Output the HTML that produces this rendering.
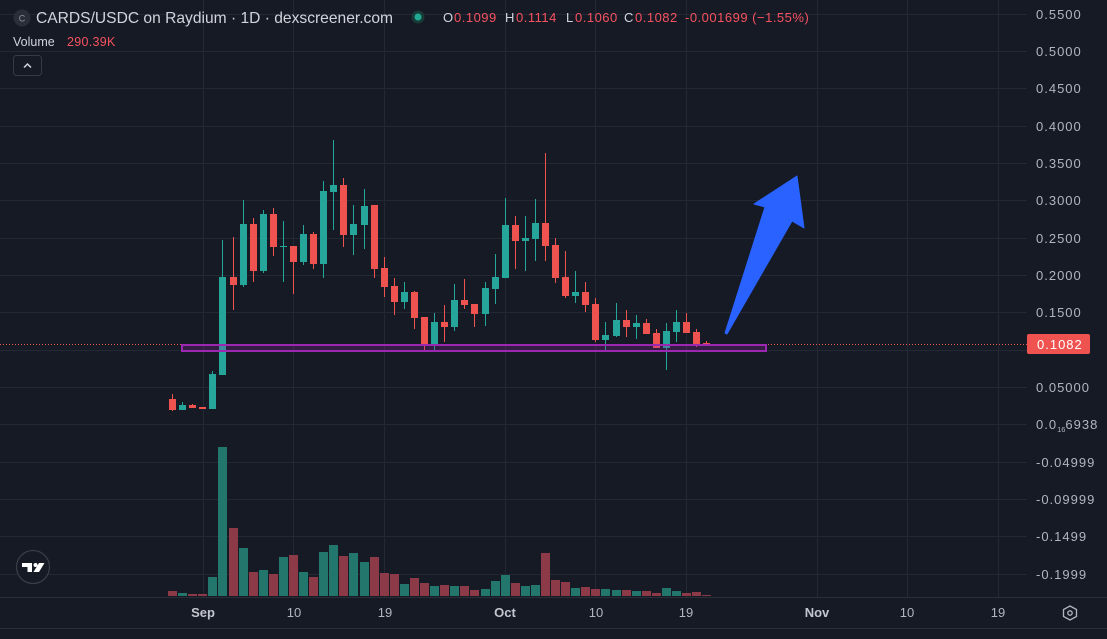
<!DOCTYPE html>
<html><head><meta charset="utf-8"><style>
html,body{margin:0;padding:0;background:#161a25;}
svg{display:block;}
text{font-family:"Liberation Sans",Arial,sans-serif;}
</style></head><body>
<svg width="1107" height="639" viewBox="0 0 1107 639" xmlns="http://www.w3.org/2000/svg">
<rect width="1107" height="639" fill="#161a25"/>
<!-- grid -->
<g stroke="#242834" stroke-width="1">
<line x1="0" y1="14.5" x2="1027" y2="14.5"/><line x1="0" y1="51.5" x2="1027" y2="51.5"/>
<line x1="0" y1="88.5" x2="1027" y2="88.5"/><line x1="0" y1="126.5" x2="1027" y2="126.5"/>
<line x1="0" y1="163.5" x2="1027" y2="163.5"/><line x1="0" y1="200.5" x2="1027" y2="200.5"/>
<line x1="0" y1="238.5" x2="1027" y2="238.5"/><line x1="0" y1="275.5" x2="1027" y2="275.5"/>
<line x1="0" y1="312.5" x2="1027" y2="312.5"/><line x1="0" y1="350.5" x2="1027" y2="350.5"/>
<line x1="0" y1="387.5" x2="1027" y2="387.5"/><line x1="0" y1="424.5" x2="1027" y2="424.5"/>
<line x1="0" y1="462.5" x2="1027" y2="462.5"/><line x1="0" y1="499.5" x2="1027" y2="499.5"/>
<line x1="0" y1="536.5" x2="1027" y2="536.5"/><line x1="0" y1="574.5" x2="1027" y2="574.5"/>
<line x1="203.5" y1="0" x2="203.5" y2="597"/><line x1="293.5" y1="0" x2="293.5" y2="597"/>
<line x1="384.5" y1="0" x2="384.5" y2="597"/><line x1="505.5" y1="0" x2="505.5" y2="597"/>
<line x1="595.5" y1="0" x2="595.5" y2="597"/><line x1="686.5" y1="0" x2="686.5" y2="597"/>
<line x1="817.5" y1="0" x2="817.5" y2="597"/><line x1="907.5" y1="0" x2="907.5" y2="597"/>
<line x1="998.5" y1="0" x2="998.5" y2="597"/>
</g>
<!-- separators -->
<line x1="0" y1="597.5" x2="1107" y2="597.5" stroke="#2a2e39"/>
<line x1="0" y1="628.5" x2="1107" y2="628.5" stroke="#2a2e39"/>

<!-- volume -->
<g fill="#22766b">
<rect x="178" y="593" width="9" height="3"/><rect x="208" y="577" width="9" height="19"/>
<rect x="218" y="447" width="9" height="149"/><rect x="239" y="548" width="9" height="48"/>
<rect x="259" y="570" width="9" height="26"/><rect x="279" y="557" width="9" height="39"/>
<rect x="299" y="572" width="9" height="24"/><rect x="319" y="552" width="9" height="44"/>
<rect x="329" y="545" width="9" height="51"/><rect x="349" y="553" width="9" height="43"/>
<rect x="360" y="562" width="9" height="34"/><rect x="400" y="584" width="9" height="12"/>
<rect x="430" y="586" width="9" height="10"/><rect x="450" y="586" width="9" height="10"/>
<rect x="481" y="589" width="9" height="7"/><rect x="491" y="581" width="9" height="15"/>
<rect x="501" y="575" width="9" height="21"/><rect x="521" y="586" width="9" height="10"/>
<rect x="531" y="585" width="9" height="11"/><rect x="571" y="588" width="9" height="8"/>
<rect x="601" y="589" width="9" height="7"/><rect x="612" y="590" width="9" height="6"/>
<rect x="632" y="591" width="9" height="5"/><rect x="662" y="588" width="9" height="8"/>
<rect x="672" y="591" width="9" height="5"/>
</g>
<g fill="#8c3a47">
<rect x="168" y="591" width="9" height="5"/><rect x="188" y="594" width="9" height="2"/>
<rect x="198" y="594" width="9" height="2"/><rect x="229" y="528" width="9" height="68"/>
<rect x="249" y="572" width="9" height="24"/><rect x="269" y="574" width="9" height="22"/>
<rect x="289" y="555" width="9" height="41"/><rect x="309" y="577" width="9" height="19"/>
<rect x="339" y="556" width="9" height="40"/><rect x="370" y="557" width="9" height="39"/>
<rect x="380" y="573" width="9" height="23"/><rect x="390" y="574" width="9" height="22"/>
<rect x="410" y="578" width="9" height="18"/><rect x="420" y="583" width="9" height="13"/>
<rect x="440" y="585" width="9" height="11"/><rect x="460" y="586" width="9" height="10"/>
<rect x="470" y="590" width="9" height="6"/><rect x="511" y="583" width="9" height="13"/>
<rect x="541" y="553" width="9" height="43"/><rect x="551" y="580" width="9" height="16"/>
<rect x="561" y="582" width="9" height="14"/><rect x="581" y="587" width="9" height="9"/>
<rect x="591" y="589" width="9" height="7"/><rect x="622" y="590" width="9" height="6"/>
<rect x="642" y="591" width="9" height="5"/><rect x="652" y="593" width="9" height="3"/>
<rect x="682" y="593" width="9" height="3"/><rect x="692" y="592" width="9" height="4"/>
<rect x="702" y="595" width="9" height="1"/>
</g>

<!-- candles green -->
<g fill="#26a69a">
<rect x="182" y="402" width="1" height="8"/><rect x="179" y="405" width="7" height="5"/>
<rect x="212" y="371" width="1" height="38"/><rect x="209" y="374" width="7" height="35"/>
<rect x="222" y="240" width="1" height="135"/><rect x="219" y="277" width="7" height="98"/>
<rect x="243" y="200" width="1" height="87"/><rect x="240" y="224" width="7" height="61"/>
<rect x="263" y="210" width="1" height="63"/><rect x="260" y="214" width="7" height="57"/>
<rect x="283" y="221" width="1" height="61"/><rect x="280" y="246" width="7" height="1"/>
<rect x="303" y="225" width="1" height="40"/><rect x="300" y="234" width="7" height="28"/>
<rect x="323" y="181" width="1" height="97"/><rect x="320" y="191" width="7" height="73"/>
<rect x="333" y="140" width="1" height="90"/><rect x="330" y="185" width="7" height="7"/>
<rect x="353" y="205" width="1" height="50"/><rect x="350" y="224" width="7" height="11"/>
<rect x="364" y="189" width="1" height="60"/><rect x="361" y="206" width="7" height="19"/>
<rect x="404" y="282" width="1" height="27"/><rect x="401" y="292" width="7" height="10"/>
<rect x="434" y="313" width="1" height="37"/><rect x="431" y="322" width="7" height="22"/>
<rect x="454" y="284" width="1" height="47"/><rect x="451" y="300" width="7" height="27"/>
<rect x="485" y="282" width="1" height="44"/><rect x="482" y="288" width="7" height="26"/>
<rect x="495" y="254" width="1" height="50"/><rect x="492" y="277" width="7" height="12"/>
<rect x="505" y="198" width="1" height="80"/><rect x="502" y="225" width="7" height="53"/>
<rect x="525" y="216" width="1" height="55"/><rect x="522" y="238" width="7" height="3"/>
<rect x="535" y="199" width="1" height="62"/><rect x="532" y="223" width="7" height="16"/>
<rect x="575" y="271" width="1" height="32"/><rect x="572" y="292" width="7" height="4"/>
<rect x="605" y="322" width="1" height="29"/><rect x="602" y="335" width="7" height="5"/>
<rect x="616" y="303" width="1" height="34"/><rect x="613" y="320" width="7" height="16"/>
<rect x="636" y="315" width="1" height="24"/><rect x="633" y="323" width="7" height="4"/>
<rect x="666" y="323" width="1" height="47"/><rect x="663" y="331" width="7" height="17"/>
<rect x="676" y="310" width="1" height="32"/><rect x="673" y="322" width="7" height="10"/>
</g>
<!-- candles red -->
<g fill="#ef5350">
<rect x="172" y="394" width="1" height="17"/><rect x="169" y="399" width="7" height="11"/>
<rect x="192" y="404" width="1" height="4"/><rect x="189" y="405" width="7" height="3"/>
<rect x="202" y="407" width="1" height="2"/><rect x="199" y="407" width="7" height="2"/>
<rect x="233" y="237" width="1" height="73"/><rect x="230" y="277" width="7" height="8"/>
<rect x="253" y="218" width="1" height="64"/><rect x="250" y="224" width="7" height="47"/>
<rect x="273" y="208" width="1" height="48"/><rect x="270" y="214" width="7" height="33"/>
<rect x="293" y="246" width="1" height="48"/><rect x="290" y="246" width="7" height="16"/>
<rect x="313" y="232" width="1" height="37"/><rect x="310" y="234" width="7" height="30"/>
<rect x="343" y="178" width="1" height="69"/><rect x="340" y="185" width="7" height="50"/>
<rect x="374" y="205" width="1" height="73"/><rect x="371" y="205" width="7" height="64"/>
<rect x="384" y="257" width="1" height="40"/><rect x="381" y="268" width="7" height="19"/>
<rect x="394" y="278" width="1" height="37"/><rect x="391" y="286" width="7" height="16"/>
<rect x="414" y="291" width="1" height="38"/><rect x="411" y="292" width="7" height="26"/>
<rect x="424" y="317" width="1" height="35"/><rect x="421" y="317" width="7" height="27"/>
<rect x="444" y="305" width="1" height="37"/><rect x="441" y="322" width="7" height="5"/>
<rect x="464" y="279" width="1" height="30"/><rect x="461" y="300" width="7" height="5"/>
<rect x="474" y="304" width="1" height="23"/><rect x="471" y="304" width="7" height="10"/>
<rect x="515" y="216" width="1" height="53"/><rect x="512" y="225" width="7" height="16"/>
<rect x="545" y="153" width="1" height="108"/><rect x="542" y="223" width="7" height="23"/>
<rect x="555" y="238" width="1" height="45"/><rect x="552" y="245" width="7" height="33"/>
<rect x="565" y="251" width="1" height="47"/><rect x="562" y="277" width="7" height="19"/>
<rect x="585" y="282" width="1" height="30"/><rect x="582" y="292" width="7" height="13"/>
<rect x="595" y="298" width="1" height="44"/><rect x="592" y="304" width="7" height="36"/>
<rect x="626" y="310" width="1" height="27"/><rect x="623" y="320" width="7" height="7"/>
<rect x="646" y="319" width="1" height="15"/><rect x="643" y="323" width="7" height="11"/>
<rect x="656" y="329" width="1" height="19"/><rect x="653" y="333" width="7" height="15"/>
<rect x="686" y="313" width="1" height="20"/><rect x="683" y="322" width="7" height="11"/>
<rect x="696" y="329" width="1" height="18"/><rect x="693" y="332" width="7" height="12"/>
<rect x="706" y="341" width="1" height="4"/><rect x="703" y="343" width="7" height="1"/>
</g>

<!-- price line -->
<line x1="0" y1="344.5" x2="1027" y2="344.5" stroke="#ef5350" stroke-width="1" stroke-dasharray="1 2"/>
<!-- support box -->
<rect x="182" y="345" width="584" height="6" fill="rgba(156,39,176,0.22)" stroke="#9c27b0" stroke-width="2"/>
<!-- arrow -->
<polygon points="725,333 765,207 754,204 797,176 804,228 792,221 727,334" fill="#2962ff" stroke="#2962ff" stroke-width="1" stroke-linejoin="round"/>

<!-- header -->
<circle cx="22" cy="18" r="8.5" fill="#2a2e39"/>
<text x="22" y="21.5" font-size="9" fill="#8a8e99" text-anchor="middle">C</text>
<text x="36" y="23" font-size="16" fill="#d1d4dc" textLength="357" lengthAdjust="spacingAndGlyphs">CARDS/USDC on Raydium · 1D · dexscreener.com</text>
<circle cx="418" cy="17" r="6.5" fill="#173c37"/>
<circle cx="418" cy="17" r="3.5" fill="#22ab94"/>
<g font-size="13" letter-spacing="0.5">
<text x="443" y="22" fill="#d1d4dc">O</text><text x="454" y="22" fill="#f7525f">0.1099</text>
<text x="505" y="22" fill="#d1d4dc">H</text><text x="516" y="22" fill="#f7525f">0.1114</text>
<text x="566" y="22" fill="#d1d4dc">L</text><text x="575" y="22" fill="#f7525f">0.1060</text>
<text x="624" y="22" fill="#d1d4dc">C</text><text x="635" y="22" fill="#f7525f">0.1082</text>
<text x="685" y="22" fill="#f7525f">-0.001699 (−1.55%)</text>
</g>
<text x="13" y="46" font-size="12.5" fill="#d1d4dc">Volume</text>
<text x="67" y="46" font-size="12.5" fill="#f7525f" letter-spacing="0.3">290.39K</text>
<rect x="13.5" y="55.5" width="28" height="20" rx="3" fill="none" stroke="#363a45"/>
<polyline points="24,67.5 27.5,64 31,67.5" fill="none" stroke="#d1d4dc" stroke-width="1.5"/>

<!-- price axis labels -->
<g font-size="13" fill="#b2b5be" letter-spacing="1">
<text x="1036" y="19">0.5500</text>
<text x="1036" y="56">0.5000</text>
<text x="1036" y="93">0.4500</text>
<text x="1036" y="131">0.4000</text>
<text x="1036" y="168">0.3500</text>
<text x="1036" y="205">0.3000</text>
<text x="1036" y="243">0.2500</text>
<text x="1036" y="280">0.2000</text>
<text x="1036" y="317">0.1500</text>
<text x="1036" y="392">0.05000</text>
<text x="1036" y="429">0.0<tspan font-size="7.5" letter-spacing="0" dy="3">16</tspan><tspan dy="-3">6938</tspan></text>
<text x="1036" y="467">-0.04999</text>
<text x="1036" y="504">-0.09999</text>
<text x="1036" y="541">-0.1499</text>
<text x="1036" y="579">-0.1999</text>
</g>
<rect x="1027" y="334" width="63" height="20" rx="2" fill="#ef5350"/>
<text x="1037" y="349" font-size="13" fill="#ffffff" letter-spacing="1">0.1082</text>

<!-- time axis -->
<g font-size="13" text-anchor="middle">
<text x="203" y="617" fill="#c3c6ce" font-weight="bold">Sep</text>
<text x="294" y="617" fill="#b2b5be">10</text>
<text x="385" y="617" fill="#b2b5be">19</text>
<text x="505" y="617" fill="#c3c6ce" font-weight="bold">Oct</text>
<text x="596" y="617" fill="#b2b5be">10</text>
<text x="686" y="617" fill="#b2b5be">19</text>
<text x="817" y="617" fill="#c3c6ce" font-weight="bold">Nov</text>
<text x="907" y="617" fill="#b2b5be">10</text>
<text x="998" y="617" fill="#b2b5be">19</text>
</g>
<polygon points="1070,606 1076.5,609.5 1076.5,616.5 1070,620 1063.5,616.5 1063.5,609.5" fill="none" stroke="#b2b5be" stroke-width="1.3"/>
<circle cx="1070" cy="613" r="2.2" fill="none" stroke="#b2b5be" stroke-width="1.3"/>

<!-- TV logo -->
<circle cx="33" cy="567" r="16.5" fill="#161a25" stroke="#3a3e4a" stroke-width="1.2"/>
<path d="M22 563 h10 v9 h-4.5 v-5 h-5.5 z" fill="#ffffff"/>
<circle cx="35.5" cy="565" r="2" fill="#ffffff"/>
<polygon points="39,563 44.5,563 39,572 33.5,572" fill="#ffffff"/>
</svg>
</body></html>
